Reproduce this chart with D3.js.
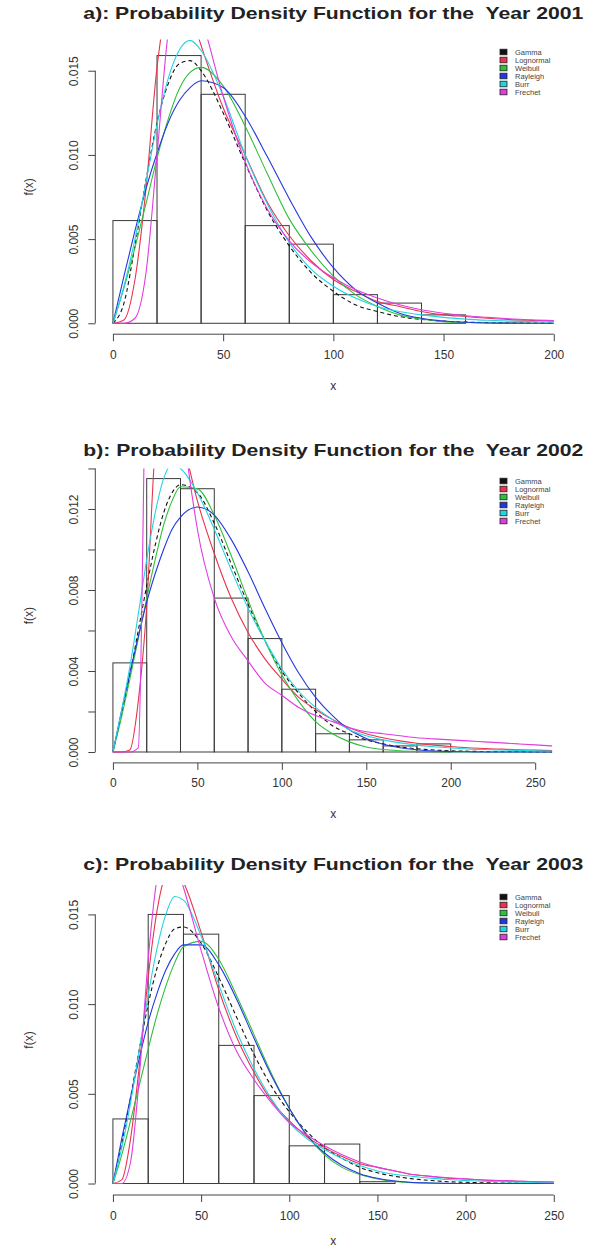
<!DOCTYPE html>
<html>
<head>
<meta charset="utf-8">
<script src="https://cdn.jsdelivr.net/npm/d3@7"></script>
<style>
  body { margin: 0; background: #fff; }
  svg { display: block; }
  text { font-family: "Liberation Sans", Arial, Helvetica, sans-serif; }
  .title { white-space: pre; }
</style>
</head>
<body>
<svg id="chart" width="590" height="1251"></svg>
<script>
// ---- Fitted distributions (legend order) ----
const seriesNames  = ["Gamma", "Lognormal", "Weibull", "Rayleigh", "Burr", "Frechet"];
const seriesColors = ["#111111", "#e8344e", "#2fbf3a", "#2438e0", "#22d4e2", "#e03ce0"];

// ---- 2001 ----
const binEdges2001 = [0, 20, 40, 60, 80, 100, 120, 140, 160];
const density2001  = [0.0061, 0.0159, 0.0136, 0.0058, 0.0047, 0.0017, 0.0012, 0.0005];
const grid2001 = [0,5,10,15,20,25,30,35,40,50,60,70,80,90,100,110,120,130,140,150,160,170,180,190,200];
const gamma2001     = [0,.0012,.0046,.0085,.0119,.0142,.0154,.0156,.0150,.0125,.0095,.0067,.0046,.0030,.0019,.0011,.0007,.0004,.00023,.00013,.00007,.00004,.00002,.00001,.00001];
const lognormal2001 = [0,.0002,.0026,.0080,.0152,.0190,.0195,.0185,.0165,.0128,.0100,.0072,.0052,.0037,.0026,.0019,.0013,.0010,.0007,.0005,.0004,.0003,.00022,.00017,.00013];
const weibull2001   = [0,.0021,.0045,.0071,.0098,.0121,.0139,.0149,.0152,.0141,.0117,.0089,.0062,.0043,.0028,.0017,.0010,.0005,.00025,.0001,.00005,.00002,.00001,0,0];
const rayleigh2001  = [0,.0028,.0055,.0080,.0101,.0119,.0132,.0140,.0144,.0140,.0123,.0099,.0074,.0051,.0033,.0020,.0012,.0006,.0003,.00014,.00006,.00002,.00001,0,0];
const burr2001      = [0,.0022,.0050,.0084,.0118,.0145,.0162,.0168,.0162,.0135,.0100,.0071,.0048,.0032,.0022,.0015,.0010,.0007,.0005,.00035,.00025,.00018,.00013,.0001,.00008];
const frechet2001   = [0,0,.0003,.0030,.0100,.0172,.0205,.0200,.0182,.0135,.0096,.0068,.0049,.0036,.0027,.0020,.0015,.0011,.0008,.0006,.00045,.00035,.00027,.0002,.00016];
const xTicks2001 = [0, 50, 100, 150, 200];
const yTicks2001 = [0, 0.005, 0.010, 0.015];
const yTickLabels2001 = ["0.000", "0.005", "0.010", "0.015"];

// ---- 2002 ----
const binEdges2002 = [0, 20, 40, 60, 80, 100, 120, 140, 160, 180, 200];
const density2002  = [0.0044, 0.0135, 0.0130, 0.0076, 0.0056, 0.0031, 0.0009, 0.0006, 0.0003, 0.0004];
const grid2002 = [0,5,10,15,20,25,30,35,40,50,60,70,80,90,100,110,120,130,140,150,160,170,180,190,200,210,220,230,240,250,260];
const gamma2002     = [0,.0018,.0038,.0060,.0082,.0102,.0118,.0128,.0132,.0128,.0113,.0093,.0073,.0055,.0040,.0029,.0020,.0013,.0009,.0006,.0004,.00025,.00016,.0001,.00006,.00004,.00002,.00001,.00001,0,0];
const lognormal2002 = [0,0,.0001,.0025,.0072,.0150,.0175,.0172,.0158,.0124,.0098,.0076,.0059,.0046,.0036,.0027,.0021,.0016,.0012,.0009,.0007,.00055,.00043,.00034,.00027,.00021,.00017,.00014,.00011,.00009,.00007];
const weibull2002   = [0,.0017,.0036,.0056,.0076,.0095,.0112,.0124,.0131,.0130,.0117,.0097,.0075,.0055,.0038,.0025,.0015,.0009,.0005,.00025,.00012,.00006,.00003,.00001,0,0,0,0,0,0,0];
const rayleigh2002  = [0,.0020,.0039,.0057,.0074,.0088,.0100,.0110,.0116,.0121,.0117,.0105,.0089,.0071,.0054,.0039,.0027,.0018,.0011,.00067,.00038,.00021,.00011,.00005,.00002,.00001,0,0,0,0,0];
const burr2002      = [0,.0020,.0042,.0068,.0095,.0118,.0135,.0142,.0140,.0128,.0110,.0090,.0071,.0055,.0041,.0030,.0022,.0016,.0011,.0008,.0006,.00045,.00034,.00026,.0002,.00015,.00012,.0001,.00008,.00006,.00005];
const frechet2002   = [0,0,0,.0002,.0220,.0310,.0290,.0230,.0175,.0110,.0076,.0057,.0045,.0034,.0028,.0022,.0018,.0015,.0012,.0010,.0009,.0008,.0007,.00065,.0006,.00055,.0005,.00045,.0004,.00035,.0003];
const xTicks2002 = [0, 50, 100, 150, 200, 250];
const yTicks2002 = [0, 0.002, 0.004, 0.006, 0.008, 0.010, 0.012, 0.014];
const yTickLabels2002 = ["0.000", "", "0.004", "", "0.008", "", "0.012", ""];

// ---- 2003 ----
const binEdges2003 = [0, 20, 40, 60, 80, 100, 120, 140, 160];
const density2003  = [0.0036, 0.0150, 0.0139, 0.0077, 0.0049, 0.0021, 0.0022, 0.0001];
const grid2003 = [0,5,10,15,20,25,30,35,40,50,60,70,80,90,100,110,120,130,140,150,160,170,180,190,200,210,220,230,240,250];
const gamma2003     = [0,.0022,.0048,.0075,.0100,.0120,.0134,.0142,.0143,.0134,.0115,.0093,.0072,.0054,.0040,.0029,.0020,.0014,.0009,.0006,.0004,.00026,.00017,.0001,.00007,.00004,.00003,.00002,.00001,.00001];
const lognormal2003 = [0,.0002,.0025,.0066,.0115,.0152,.0172,.0176,.0168,.0140,.0108,.0082,.0062,.0046,.0035,.0026,.0020,.0015,.0011,.0009,.0007,.0005,.0004,.0003,.00025,.0002,.00016,.00013,.0001,.00008];
const weibull2003   = [0,.0016,.0035,.0055,.0075,.0094,.0110,.0123,.0132,.0135,.0125,.0105,.0083,.0061,.0042,.0027,.0016,.0009,.0005,.00025,.00012,.00005,.00002,0,0,0,0,0,0,0];
const rayleigh2003  = [0,.0025,.0048,.0070,.0090,.0106,.0119,.0128,.0133,.0133,.0122,.0103,.0081,.0060,.0042,.0027,.0017,.0010,.00055,.00029,.00014,.00006,.00003,.00001,0,0,0,0,0,0];
const burr2003      = [0,.0020,.0045,.0075,.0105,.0131,.0150,.0160,.0158,.0138,.0111,.0085,.0064,.0047,.0034,.0025,.0019,.0014,.0010,.0007,.0005,.0004,.0003,.00022,.00017,.00013,.0001,.00008,.00006,.00005];
const frechet2003   = [0,0,.0012,.0060,.0125,.0170,.0185,.0180,.0165,.0130,.0098,.0074,.0058,.0045,.0034,.0027,.0021,.0016,.0012,.0009,.0007,.0005,.0004,.00032,.00026,.0002,.00016,.00013,.0001,.00008];
const xTicks2003 = [0, 50, 100, 150, 200, 250];
const yTicks2003 = [0, 0.005, 0.010, 0.015];
const yTickLabels2003 = ["0.000", "0.005", "0.010", "0.015"];

// ---- Panel layout (pixel boxes of each plot region) ----
const panels = [
  { title: "a): Probability Density Function for the  Year 2001", titleY: 19,
    top: 39.6, bottom: 334.2, xMax: 200, yMax: 0.0162, xLabelY: 390,
    edges: binEdges2001, dens: density2001, grid: grid2001,
    curves: [gamma2001, lognormal2001, weibull2001, rayleigh2001, burr2001, frechet2001],
    xTicks: xTicks2001, yTicks: yTicks2001, yLabels: yTickLabels2001, legendY: 52 },
  { title: "b): Probability Density Function for the  Year 2002", titleY: 456,
    top: 468.5, bottom: 762.9, xMax: 261, yMax: 0.01346, xLabelY: 818,
    edges: binEdges2002, dens: density2002, grid: grid2002,
    curves: [gamma2002, lognormal2002, weibull2002, rayleigh2002, burr2002, frechet2002],
    xTicks: xTicks2002, yTicks: yTicks2002, yLabels: yTickLabels2002, legendY: 481 },
  { title: "c): Probability Density Function for the  Year 2003", titleY: 870,
    top: 885, bottom: 1195, xMax: 250, yMax: 0.0160, xLabelY: 1245,
    edges: binEdges2003, dens: density2003, grid: grid2003,
    curves: [gamma2003, lognormal2003, weibull2003, rayleigh2003, burr2003, frechet2003],
    xTicks: xTicks2003, yTicks: yTicks2003, yLabels: yTickLabels2003, legendY: 897 }
];

const plotLeft = 95.3, plotRight = 571.4;
const axisColor = "#444", labelColor = "#333";
const svg = d3.select("#chart");
const defs = svg.append("defs");

panels.forEach((p, i) => {
  const g = svg.append("g");
  const xPad = 0.04 * p.xMax, yPad = 0.04 * p.yMax;
  const x = d3.scaleLinear().domain([-xPad, p.xMax + xPad]).range([plotLeft, plotRight]);
  const y = d3.scaleLinear().domain([-yPad, p.yMax + yPad]).range([p.bottom, p.top]);

  // title
  g.append("text")
    .attr("class", "title")
    .attr("x", (plotLeft + plotRight) / 2).attr("y", p.titleY)
    .attr("text-anchor", "middle")
    .attr("font-size", 16.5).attr("font-weight", "bold").attr("fill", "#222")
    .attr("textLength", 500).attr("lengthAdjust", "spacingAndGlyphs")
    .text(p.title);

  // histogram
  const bins = p.dens.map((d, k) => ({ x0: p.edges[k], x1: p.edges[k + 1], d }));
  g.append("g").selectAll("rect").data(bins).join("rect")
    .attr("x", b => x(b.x0)).attr("width", b => x(b.x1) - x(b.x0))
    .attr("y", b => y(b.d)).attr("height", b => y(0) - y(b.d))
    .attr("fill", "none").attr("stroke", "#3a3a3a").attr("stroke-width", 1);

  // fitted density curves, clipped to the plot region
  const clipId = "clip" + i;
  defs.append("clipPath").attr("id", clipId).append("rect")
    .attr("x", plotLeft).attr("y", p.top)
    .attr("width", plotRight - plotLeft).attr("height", p.bottom - p.top);
  const line = d3.line().x(d => x(d[0])).y(d => y(d[1])).curve(d3.curveMonotoneX);
  const cg = g.append("g").attr("clip-path", `url(#${clipId})`);
  p.curves.forEach((vals, s) => {
    cg.append("path")
      .datum(p.grid.map((gx, k) => [gx, vals[k]]))
      .attr("d", line)
      .attr("fill", "none")
      .attr("stroke", seriesColors[s])
      .attr("stroke-width", 1.1)
      .attr("stroke-dasharray", s === 0 ? "4,3" : null);
  });

  // x axis
  const xa = g.append("g").attr("transform", `translate(0,${p.bottom})`)
    .call(d3.axisBottom(x).tickValues(p.xTicks).tickSize(7).tickSizeOuter(0).tickPadding(9));
  xa.select(".domain").remove();
  xa.append("line")
    .attr("x1", x(p.xTicks[0])).attr("x2", x(p.xTicks[p.xTicks.length - 1]))
    .attr("stroke", axisColor);
  xa.selectAll(".tick line").attr("stroke", axisColor);
  xa.selectAll(".tick text").attr("fill", labelColor).attr("font-size", 12)
    .attr("font-family", "Liberation Sans, Arial, sans-serif");

  // y axis with rotated labels
  const ya = g.append("g").attr("transform", `translate(${plotLeft},0)`)
    .call(d3.axisLeft(y).tickValues(p.yTicks).tickSize(7).tickSizeOuter(0)
      .tickFormat((d, k) => p.yLabels[k]));
  ya.select(".domain").remove();
  ya.append("line")
    .attr("y1", y(p.yTicks[0])).attr("y2", y(p.yTicks[p.yTicks.length - 1]))
    .attr("stroke", axisColor);
  ya.selectAll(".tick line").attr("stroke", axisColor);
  ya.selectAll(".tick text")
    .attr("x", null).attr("dy", null)
    .attr("transform", "translate(-17,0) rotate(-90)")
    .attr("text-anchor", "middle")
    .attr("fill", labelColor).attr("font-size", 12)
    .attr("font-family", "Liberation Sans, Arial, sans-serif");

  // axis titles
  g.append("text")
    .attr("transform", `translate(33,${(p.top + p.bottom) / 2}) rotate(-90)`)
    .attr("text-anchor", "middle").attr("font-size", 12).attr("fill", labelColor)
    .text("f(x)");
  g.append("text")
    .attr("x", (plotLeft + plotRight) / 2).attr("y", p.xLabelY)
    .attr("text-anchor", "middle").attr("font-size", 12).attr("fill", labelColor)
    .text("x");

  // legend (top right, no box)
  const lg = g.append("g").attr("transform", `translate(500,${p.legendY})`);
  seriesNames.forEach((name, s) => {
    const row = lg.append("g").attr("transform", `translate(0,${s * 8})`);
    row.append("rect").attr("x", 0).attr("y", -2.8).attr("width", 7).attr("height", 5.6)
      .attr("fill", seriesColors[s]).attr("stroke", "#222").attr("stroke-width", 0.8);
    row.append("text").attr("x", 15).attr("y", 2.6)
      .attr("font-size", 7.5).attr("fill", "#444").text(name);
  });
});
</script>
</body>
</html>
